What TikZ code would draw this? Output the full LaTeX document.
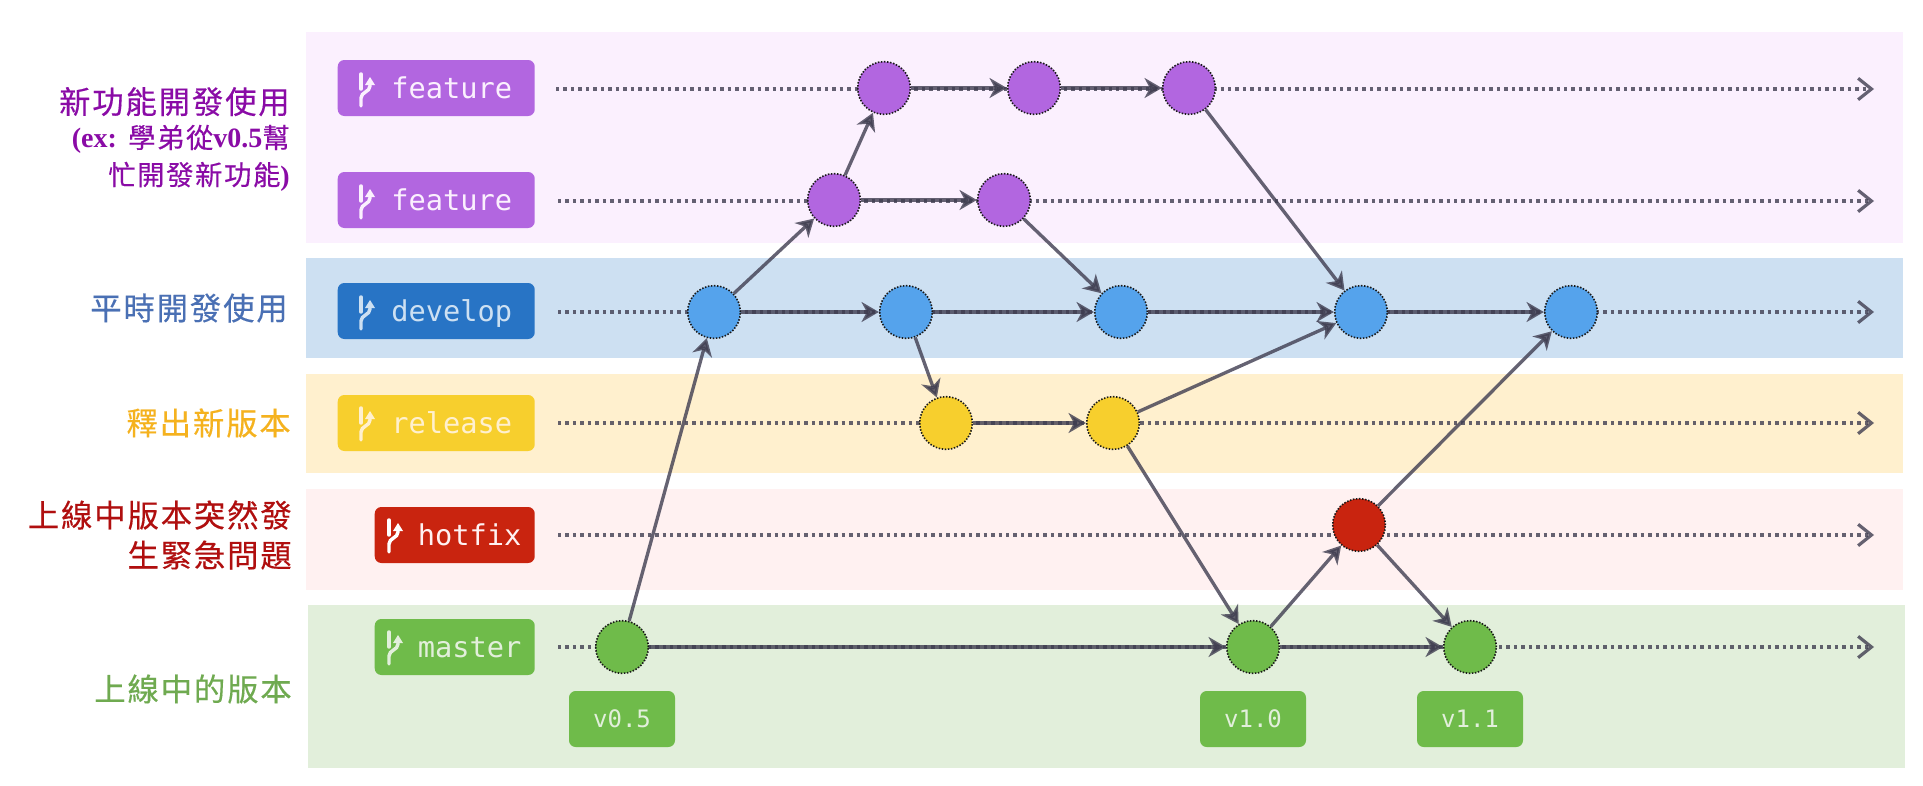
\documentclass[tikz,border=0pt]{standalone}
\usepackage{fontspec}
\usetikzlibrary{arrows.meta}
\newfontfamily\cjkA[LetterSpace=6,FakeBold=0.35]{Noto Sans CJK TC}
\newfontfamily\latinA{Liberation Serif}
\newfontfamily\monoA{DejaVu Sans Mono}
\definecolor{pband}{HTML}{FBF0FE}\definecolor{bband}{HTML}{CDE0F2}
\definecolor{yband}{HTML}{FFF0CE}\definecolor{rband}{HTML}{FFF1F1}
\definecolor{gband}{HTML}{E2EFDB}
\definecolor{pfill}{HTML}{B266E0}\definecolor{bfill}{HTML}{55A3EC}
\definecolor{bdark}{HTML}{2874C5}\definecolor{yfill}{HTML}{F7CF2D}
\definecolor{rfill}{HTML}{C9240F}\definecolor{gfill}{HTML}{6FBB4A}
\definecolor{edge}{HTML}{3F3D50}
\definecolor{ptxt}{HTML}{8A0BA6}\definecolor{btxt}{HTML}{4A70B4}
\definecolor{ytxt}{HTML}{F5B21E}\definecolor{rtxt}{HTML}{B00F0F}
\definecolor{gtxt}{HTML}{6FAA50}
\tikzset{
 x=0.75pt,y=-0.75pt,
 commit/.style={circle,draw=black!90,dash pattern=on 1.1pt off 1.2pt,line width=1.2pt,minimum size=39.5pt,inner sep=0pt},
 tag/.style={rounded corners=5pt,minimum height=42pt,inner xsep=0pt,inner ysep=0pt,align=right,text height=20pt,text depth=5pt,font=\monoA\fontsize{21.5}{21.5}\selectfont,anchor=east},
 widetag/.style={tag,text width=147.75pt},
 narrowtag/.style={tag,text width=120pt},
 version/.style={rounded corners=5pt,fill=gfill,text=gband,minimum width=79.5pt,minimum height=42pt,inner sep=0pt,font=\monoA\fontsize{18}{18}\selectfont},
 flow/.style={edge,opacity=.8,line width=2.5pt,-{Stealth[length=13pt,width=15pt,inset=4pt]}},
 lane/.style={edge,opacity=.8,line width=2.3pt,dash pattern=on 2.6pt off 3pt,-{Straight Barb[length=10pt,width=16pt,line width=2.4pt]}},
 side/.style={align=right,anchor=east,inner sep=0pt},
}
\newcommand{\branchicon}[3]{%
 \begin{scope}[shift={(#1,#2)},draw=#3,line width=2.6pt,line cap=round]
  \draw (0,-15) -- (0,0);
  \draw (0,17) -- (0,9) .. controls (0,3) and (9,3) .. (9,-3) -- (9,-6);
  \fill[#3] (9,-12) -- (14,-4) -- (4,-4) -- cycle;
 \end{scope}}
\begin{document}
\begin{tikzpicture}
\useasboundingbox (0,0) rectangle (1923,785);
\fill[white] (0,0) rectangle (1923,785);
% bands
\fill[pband] (306,32) rectangle (1903,243);
\fill[bband] (306,258) rectangle (1903,358);
\fill[yband] (306,374) rectangle (1903,473);
\fill[rband] (306,489) rectangle (1903,590);
\fill[gband] (308,605) rectangle (1905,768);
% side texts
\node[side,text=ptxt] (s1) at (290,139) {\fontsize{23.5}{30}\selectfont\cjkA 新功能開發使用\\[5.5pt]
 \fontsize{21}{26}\selectfont{\latinA\bfseries (ex:} {\fontsize{20.5}{26}\selectfont\cjkA 學弟從}{\latinA\bfseries v0.5}{\fontsize{20.5}{26}\selectfont\cjkA 幫}\\[5pt]
 {\fontsize{20.5}{26}\selectfont\cjkA 忙開發新功能}{\fontsize{21}{26}\selectfont\latinA\bfseries )}};
\node[side,text=btxt,font=\fontsize{23.5}{30}\selectfont\cjkA] (s2) at (288,308) {平時開發使用};
\node[side,text=ytxt,font=\fontsize{23.5}{30}\selectfont\cjkA] (s3) at (291,423) {釋出新版本};
\node[side,text=rtxt,font=\fontsize{23.5}{30}\selectfont\cjkA] (s4) at (292,535) {上線中版本突然發\\生緊急問題};
\node[side,text=gtxt,font=\fontsize{23.5}{30}\selectfont\cjkA] (s5) at (292,689) {上線中的版本};
% branch tags
\node[widetag,fill=pfill,text=pband] (tf1) at (535,88) {feature\hspace*{17pt}};
\node[widetag,fill=pfill,text=pband] (tf2) at (535,200) {feature\hspace*{17pt}};
\node[widetag,fill=bdark,text=bband] (td) at (535,311) {develop\hspace*{17pt}};
\node[widetag,fill=yfill,text=yband] (tr) at (535,423) {release\hspace*{17pt}};
\node[narrowtag,fill=rfill,text=rband] (th) at (535,535) {hotfix\hspace*{10pt}};
\node[narrowtag,fill=gfill,text=gband] (tm) at (535,647) {master\hspace*{10pt}};
\branchicon{361}{89}{pband}
\branchicon{361}{201}{pband}
\branchicon{361}{312}{bband}
\branchicon{361}{423}{yband}
\branchicon{389}{535}{white}
\branchicon{389}{647}{gband}
% lane ends
\coordinate (e1s) at (556,89); \coordinate (e1e) at (1874,89);
\coordinate (e2s) at (558,201); \coordinate (e2e) at (1874,201);
\coordinate (e3s) at (558,312); \coordinate (e3e) at (1874,312);
\coordinate (e4s) at (558,423); \coordinate (e4e) at (1874,423);
\coordinate (e5s) at (558,535); \coordinate (e5e) at (1874,535);
\coordinate (e6s) at (558,647); \coordinate (e6e) at (1874,647);
\foreach \i in {1,...,6} \draw[lane] (e\i s) -- (e\i e);
% commits
\node[commit,fill=pfill] (a0) at (884,88) {};
\node[commit,fill=pfill] (a1) at (1034,88) {};
\node[commit,fill=pfill] (a2) at (1189,88) {};
\node[commit,fill=pfill] (b0) at (834,200) {};
\node[commit,fill=pfill] (b1) at (1004,200) {};
\node[commit,fill=bfill] (d0) at (714,312) {};
\node[commit,fill=bfill] (d1) at (906,312) {};
\node[commit,fill=bfill] (d2) at (1121,312) {};
\node[commit,fill=bfill] (d3) at (1361,312) {};
\node[commit,fill=bfill] (d4) at (1571,312) {};
\node[commit,fill=yfill] (r0) at (946,423) {};
\node[commit,fill=yfill] (r1) at (1113,423) {};
\node[commit,fill=rfill] (h0) at (1359,525) {};
\node[commit,fill=gfill] (m0) at (622,647) {};
\node[commit,fill=gfill] (m1) at (1253,647) {};
\node[commit,fill=gfill] (m2) at (1470,647) {};
% flows
\foreach \u/\v in {m0/d0,d0/b0,b0/a0,a0/a1,a1/a2,b0/b1,b1/d2,a2/d3,d0/d1,d1/d2,d2/d3,d3/d4,d1/r0,r0/r1,r1/d3,r1/m1,m0/m1,m1/m2,m1/h0,h0/m2,h0/d4}
  \draw[flow] (\u) -- (\v);
% version tags
\node[version] (v0) at (622,719) {v0.5};
\node[version] (v1) at (1253,719) {v1.0};
\node[version] (v2) at (1470,719) {v1.1};
\end{tikzpicture}
\end{document}
